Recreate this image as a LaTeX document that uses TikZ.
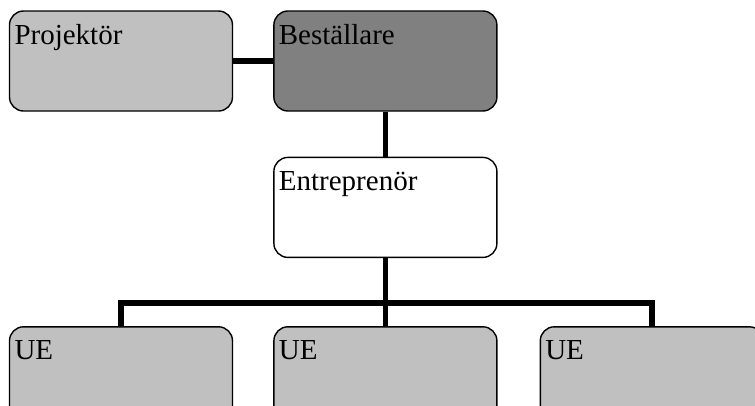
\documentclass[tikz,border=0pt]{standalone}
\usepackage{fontspec}
\setmainfont{Liberation Serif}
\usepackage{tikz}
\usetikzlibrary{positioning}
\definecolor{lightgrey}{HTML}{C0C0C0}
\definecolor{darkgrey}{HTML}{808080}

\begin{document}
\begin{tikzpicture}[
    x=1pt, y=-1pt,
    font=\fontsize{29pt}{34pt}\selectfont,
    box/.style={
		rectangle,
		rounded corners=14pt,
		draw=black,
		line width=1.4pt,
		text width=213pt,
		align=left,
		inner xsep=5pt,
		inner ysep=3pt,
		text height=30pt,
		text depth=64pt
	},
	lightbox/.style={box, fill=lightgrey},
	darkbox/.style={box, fill=darkgrey},
	whitebox/.style={box, fill=white},
	link/.style={
		line width=5.5pt
	}
  ]
  \useasboundingbox (0,0) rectangle (755,405);
  \clip (0,0) rectangle (755,405);

    % We start by placing the blocks
  \node [lightbox] (proj) at (121,61) {Projektör};
  \node [darkbox, right=40pt of proj] (best) {Beställare};
  \node [whitebox, below=45pt of best] (entr) {Entreprenör};

  \node [lightbox, below=68pt of entr] (ue2) {UE};
  \node [lightbox, left=40pt of ue2] (ue1) {UE};
  \node [lightbox, right=42pt of ue2] (ue3) {UE};

  \coordinate (bar) at ([yshift=23pt]ue2.north);

  \draw [link] (proj) -- (best);
  \draw [link] (best) -- (entr);
  \draw [link] (entr) -- (ue2);
  \draw [link] (ue1.north) |- (bar) -| (ue3.north);

\end{tikzpicture}
\end{document}
